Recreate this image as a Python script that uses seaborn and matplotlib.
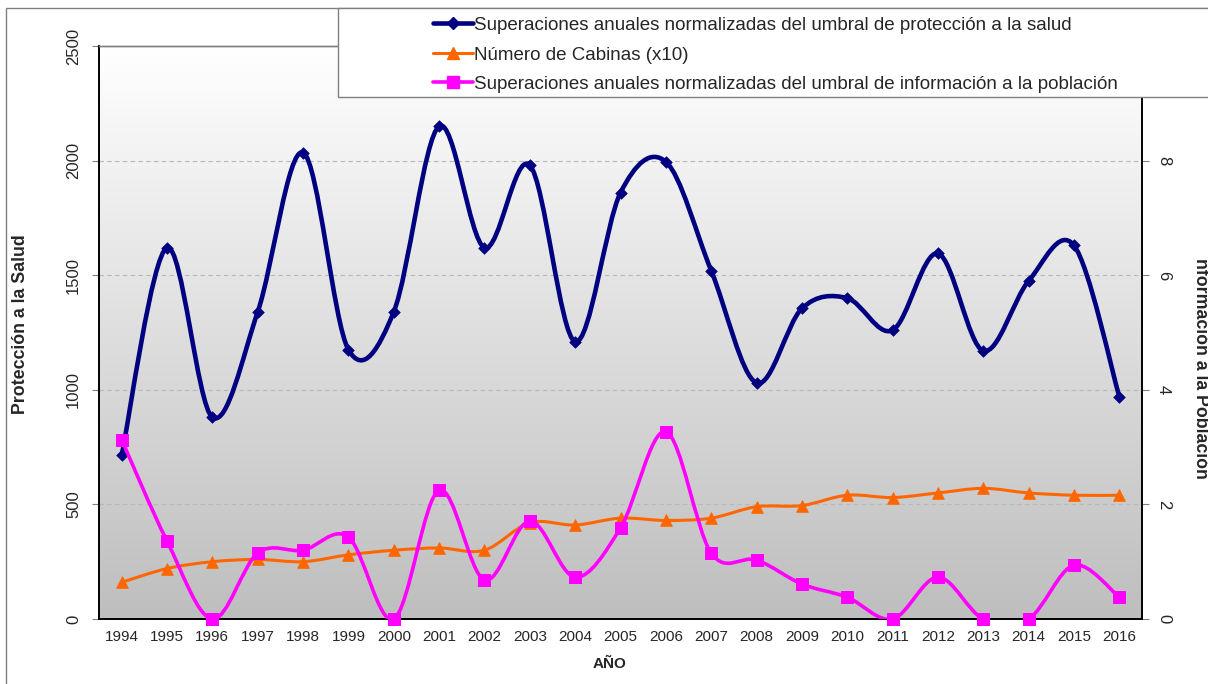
import numpy as np
import pandas as pd
import matplotlib
matplotlib.use("Agg")
import matplotlib.pyplot as plt
import seaborn as sns
from matplotlib.path import Path
from matplotlib.patches import PathPatch, Rectangle
from matplotlib.lines import Line2D

# --- DATA ---
years = [1994, 1995, 1996, 1997, 1998, 1999, 2000, 2001, 2002, 2003, 2004, 2005,
         2006, 2007, 2008, 2009, 2010, 2011, 2012, 2013, 2014, 2015, 2016]
proteccion = [715, 1620, 880, 1340, 2035, 1175, 1340, 2150, 1620, 1980, 1210, 1860,
              1995, 1520, 1030, 1355, 1400, 1260, 1595, 1170, 1475, 1630, 970]
cabinas_x10 = [160, 220, 250, 260, 250, 280, 300, 310, 300, 420, 410, 440,
               430, 440, 490, 495, 540, 530, 550, 570, 550, 540, 540]
informacion = [3.13, 1.36, 0.0, 1.15, 1.20, 1.43, 0.0, 2.25, 0.68, 1.71, 0.73, 1.59,
               3.27, 1.15, 1.03, 0.61, 0.38, 0.0, 0.73, 0.0, 0.0, 0.94, 0.38]

labels = ["Superaciones anuales normalizadas del umbral de protección a la salud",
          "Número de Cabinas (x10)",
          "Superaciones anuales normalizadas del umbral de información a la población"]

df = pd.DataFrame({"year": years, "proteccion": proteccion,
                   "cabinas": cabinas_x10, "informacion": informacion})
df["pos"] = np.arange(len(df))

BLUE = "#000080"
ORANGE = "#ff6600"
MAGENTA = "#ff00ff"

sns.set_style("white")
plt.rcParams["font.family"] = ["Liberation Sans", "DejaVu Sans"]


def excel_smooth(x, y):
    # Excel-style smoothed line: cubic Bezier segments with Catmull-Rom tangents
    x = np.asarray(x, float)
    y = np.asarray(y, float)
    n = len(x)
    verts = [(x[0], y[0])]
    codes = [Path.MOVETO]
    for i in range(n - 1):
        a = max(i - 1, 0)
        d = min(i + 2, n - 1)
        c1 = (x[i] + (x[i + 1] - x[a]) / 6, y[i] + (y[i + 1] - y[a]) / 6)
        c2 = (x[i + 1] - (x[d] - x[i]) / 6, y[i + 1] - (y[d] - y[i]) / 6)
        verts += [c1, c2, (x[i + 1], y[i + 1])]
        codes += [Path.CURVE4] * 3
    return Path(verts, codes)


W, H = 1208, 684
fig = plt.figure(figsize=(W / 100, H / 100), dpi=100)
ax = fig.add_axes([99 / W, 1 - 619 / H, (1142 - 99) / W, (619 - 46) / H])
ax2 = ax.twinx()

# gradient plot area
grad = np.linspace(0, 1, 256).reshape(-1, 1)
ax.imshow(grad, extent=[-0.5, len(years) - 0.5, 0, 2500], aspect="auto",
          cmap=matplotlib.colors.LinearSegmentedColormap.from_list("g", ["#ffffff", "#bebebe"]),
          origin="upper", zorder=0)

ax.set_xlim(-0.5, len(years) - 0.5)
ax.set_ylim(0, 2500)
ax2.set_ylim(0, 10)

# grid lines
for v in [500, 1000, 1500, 2000]:
    ax.axhline(v, color="#b8b8b8", lw=0.8, ls=(0, (4, 3)), zorder=1)

# smooth lines
ax.add_patch(PathPatch(excel_smooth(df["pos"], df["cabinas"]), fill=False,
                       edgecolor=ORANGE, lw=2.2, zorder=3))
ax.add_patch(PathPatch(excel_smooth(df["pos"], df["proteccion"]), fill=False,
                       edgecolor=BLUE, lw=3.3, zorder=4))
ax2.add_patch(PathPatch(excel_smooth(df["pos"], df["informacion"]), fill=False,
                        edgecolor=MAGENTA, lw=2.6, zorder=3))

# markers
sns.scatterplot(data=df, x="pos", y="cabinas", ax=ax, marker="^", s=70,
                color=ORANGE, edgecolor=ORANGE, zorder=5, clip_on=False)
sns.scatterplot(data=df, x="pos", y="proteccion", ax=ax, marker="D", s=35,
                color=BLUE, edgecolor=BLUE, zorder=6, clip_on=False)
sns.scatterplot(data=df, x="pos", y="informacion", ax=ax2, marker="s", s=80,
                color=MAGENTA, edgecolor=MAGENTA, zorder=5, clip_on=False)
ax2.set_xlim(-0.5, len(years) - 0.5)

# x axis: tick marks between categories, labels at centers
ax.set_xticks(np.arange(len(years) + 1) - 0.5)
ax.set_xticklabels([])
ax.set_xticks(np.arange(len(years)), minor=True)
ax.set_xticklabels([str(y) for y in years], minor=True, fontsize=11)
ax.tick_params(axis="x", which="major", length=5, color="#808080", direction="out")
ax.tick_params(axis="x", which="minor", length=0, pad=8)

ax.set_yticks([0, 500, 1000, 1500, 2000, 2500])
ax.set_yticklabels(["0", "500", "1000", "1500", "2000", "2500"], rotation=90,
                   va="center", fontsize=12)
ax.tick_params(axis="y", length=5, color="#808080", direction="out", pad=8)

ax2.set_yticks([0, 2, 4, 6, 8])
ax2.set_yticklabels(["0", "2", "4", "6", "8"], rotation=-90, va="center", fontsize=12)
ax2.tick_params(axis="y", length=5, color="#808080", direction="out", pad=5)

for a in (ax, ax2):
    for side in ("left", "right", "bottom"):
        a.spines[side].set_color("black")
        a.spines[side].set_linewidth(1.2)
    a.spines["top"].set_color("#808080")
    a.spines["top"].set_linewidth(1.0)
ax2.patch.set_visible(False)
ax.set_xlabel("")
ax.set_ylabel("")
ax2.set_xlabel("")
ax2.set_ylabel("")

# axis titles
fig.text(610 / W, 1 - 664 / H, "AÑO", fontsize=11, fontweight="bold",
         ha="center", va="center")
fig.text(21 / W, 1 - 324 / H, "Protección a la Salud", rotation=90,
         fontsize=12.8, fontweight="bold", ha="center", va="center")
fig.text(1200 / W, 1 - 368 / H, "nformación a la Población", rotation=-90,
         fontsize=12.8, fontweight="bold", ha="center", va="center")

# outer chart border
fig.add_artist(Rectangle((6 / W, -0.1), 1.2, 1 - 8 / H + 0.1,
                         transform=fig.transFigure, fill=False,
                         edgecolor="#808080", lw=1.0, zorder=0.5))

# legend box
fig.add_artist(Rectangle((338 / W, 1 - 97 / H), 1.0, (97 - 8) / H,
                         transform=fig.transFigure, facecolor="white",
                         edgecolor="#808080", lw=1.0, zorder=4.5))
handles = [Line2D([], [], color=BLUE, lw=3.3, marker="D", ms=6),
           Line2D([], [], color=ORANGE, lw=2.2, marker="^", ms=8),
           Line2D([], [], color=MAGENTA, lw=2.6, marker="s", ms=8)]
leg = fig.legend(handles, labels, loc="upper left",
                 bbox_to_anchor=(431 / W, 1 - 15 / H), frameon=False,
                 fontsize=13.5, handlelength=2.15, handletextpad=0.05,
                 labelspacing=0.66, borderpad=0.1, borderaxespad=0)
leg.set_zorder(5)

fig.savefig("out.png", dpi=100)
